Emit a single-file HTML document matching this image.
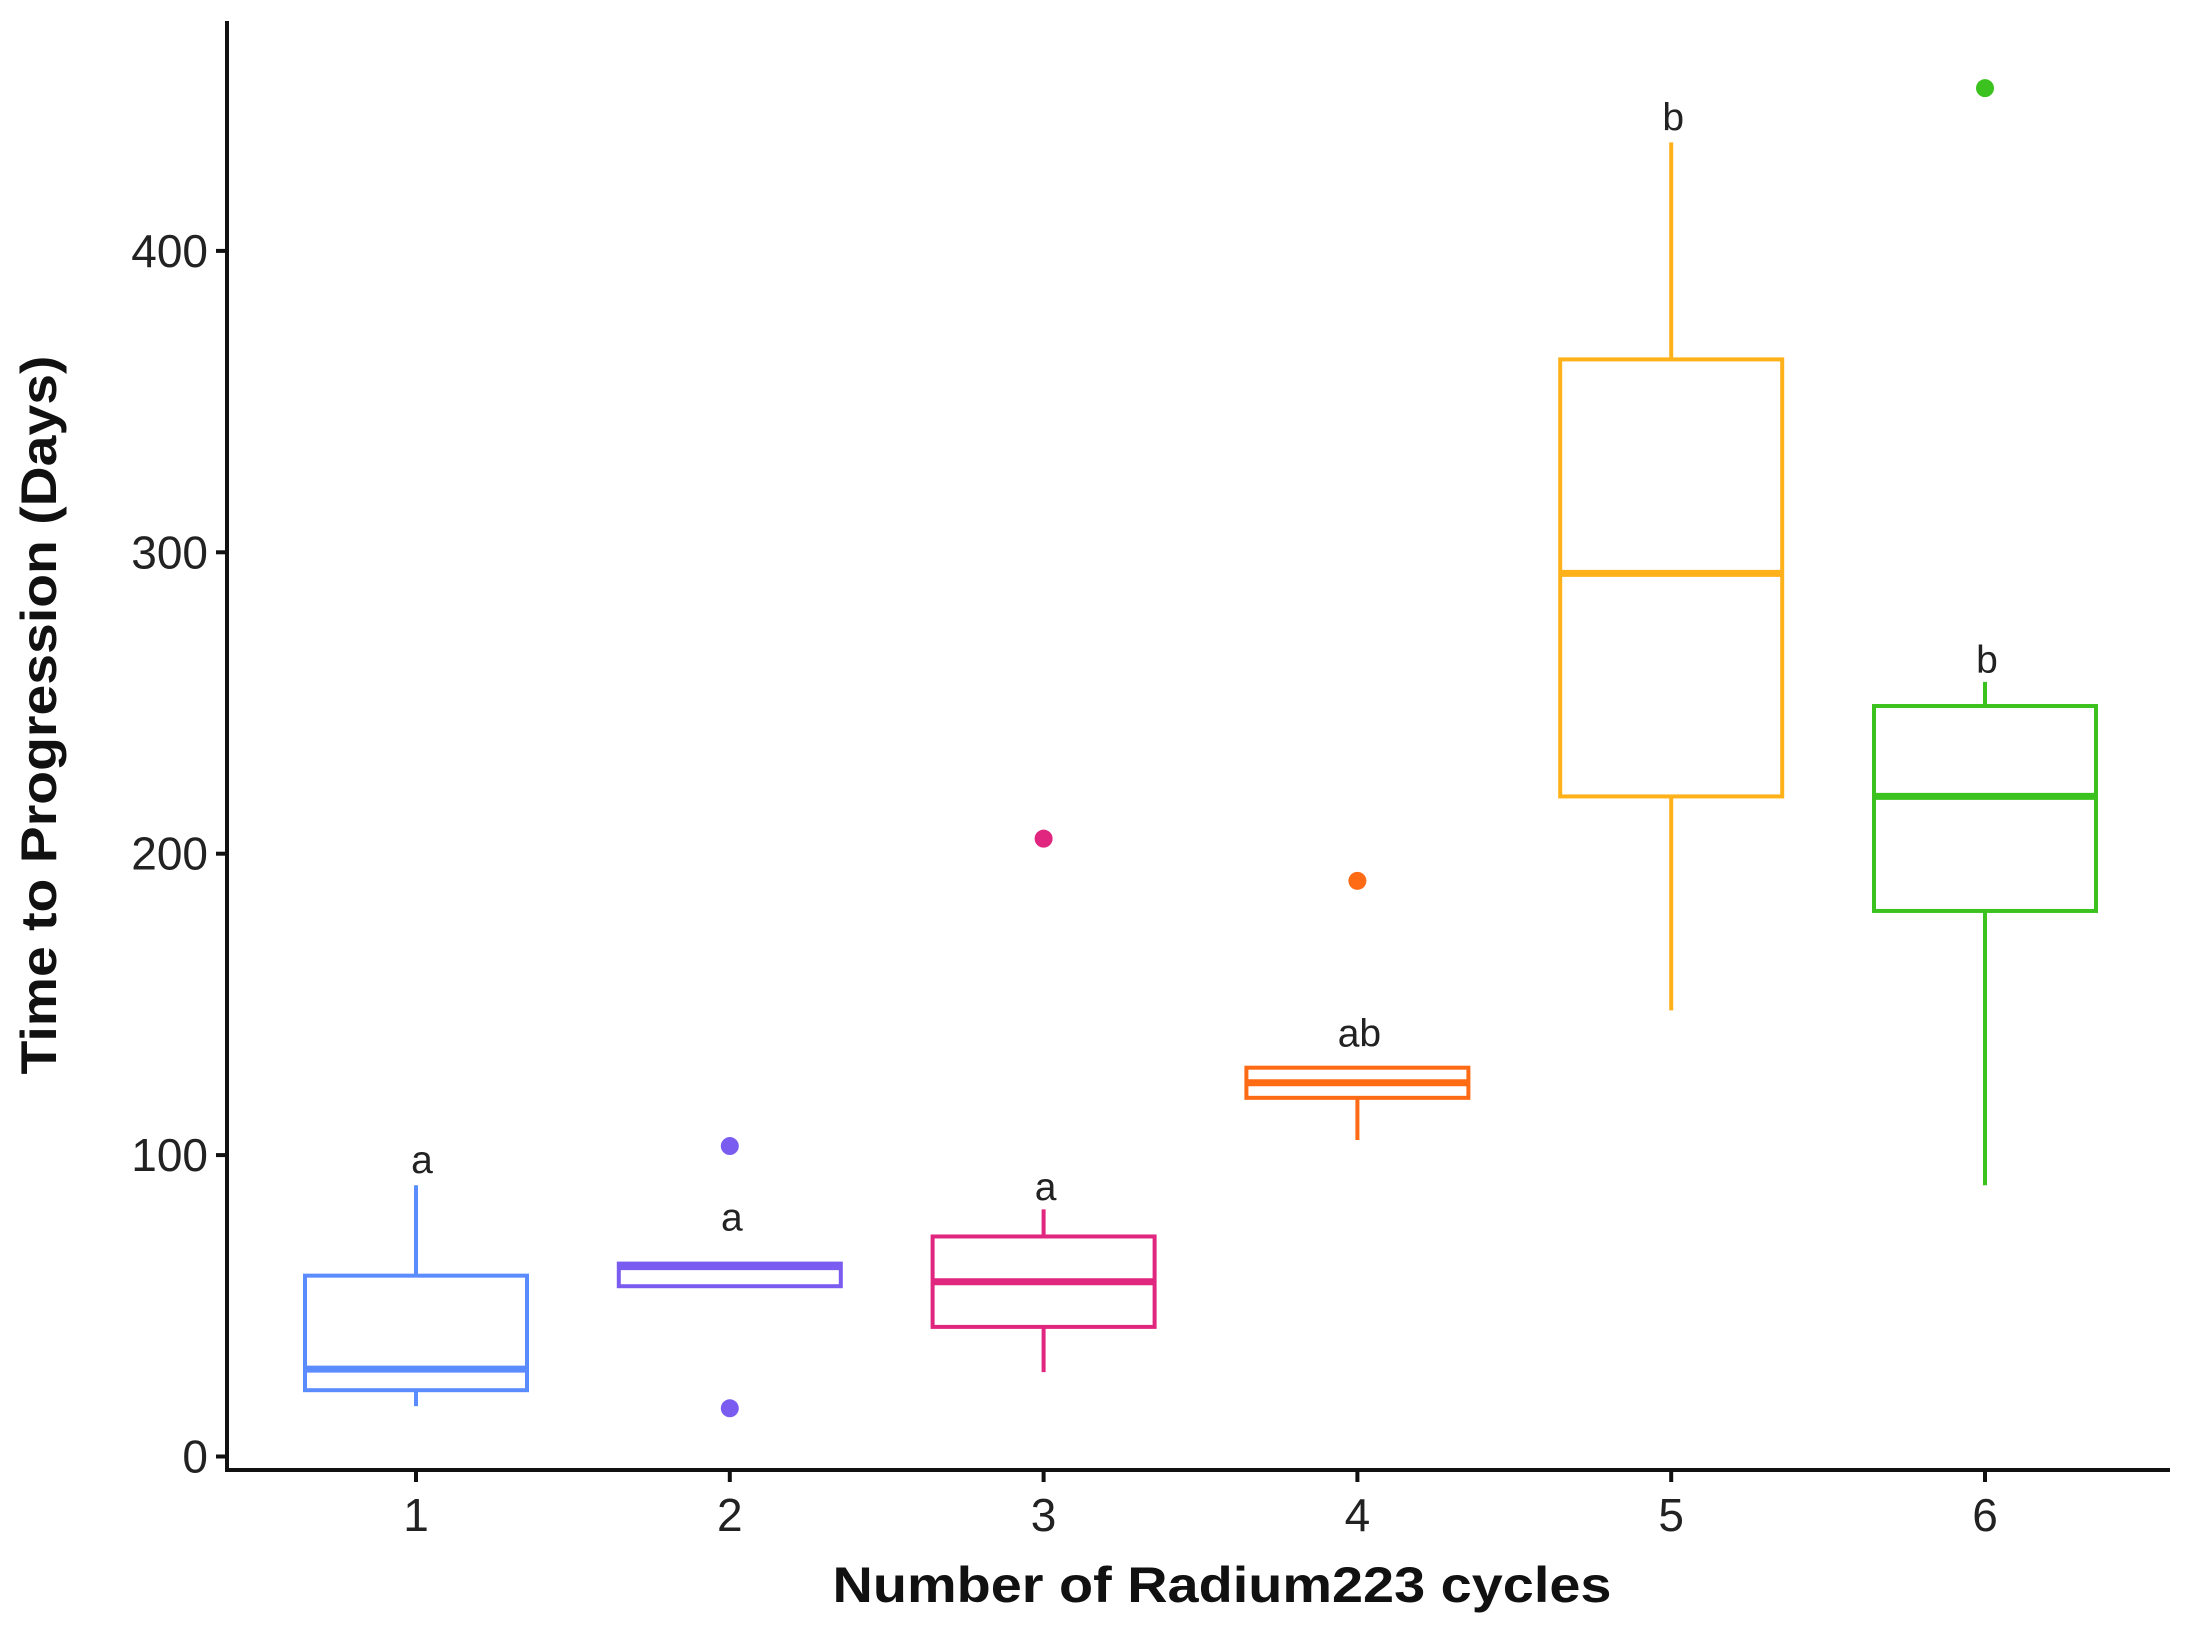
<!DOCTYPE html>
<html><head><meta charset="utf-8"><style>
html,body{margin:0;padding:0;background:#fff;}
svg{display:block;font-family:"Liberation Sans",Arial,sans-serif;}
</style></head><body>
<svg id="chart" width="2188" height="1631" viewBox="0 0 2188 1631" xmlns="http://www.w3.org/2000/svg">
<g id="plot"></g>
<text x="1222" y="1602" text-anchor="middle" font-size="50" font-weight="bold" textLength="779" lengthAdjust="spacingAndGlyphs" fill="#111">Number of Radium223 cycles</text>
<text transform="translate(56,715) rotate(-90)" text-anchor="middle" font-size="50" font-weight="bold" textLength="719" lengthAdjust="spacingAndGlyphs" fill="#111">Time to Progression (Days)</text>
</svg>
<script>
const categories = ['1','2','3','4','5','6'];
const lowWhisker = [16.7, 56.5, 28, 105, 148, 90];
const q1 = [22, 56.5, 43, 119, 219, 181];
const median = [29, 63, 58, 124, 293, 219];
const q3 = [60, 64, 73, 129, 364, 249];
const highWhisker = [90, 64, 82, 129, 436, 257];
const outliers = [[], [103, 16], [205], [191], [], [454]];
const letters = ['a', 'a', 'a', 'ab', 'b', 'b'];
const letterValues = [100, 81, 91, 142, 446, 266];
const colors = ['#5b8cff', '#7b5cf0', '#e0267f', '#ff6a14', '#ffb11a', '#3cc21e'];
const yTicks = [0, 100, 200, 300, 400];

const NS = 'http://www.w3.org/2000/svg';
const g = document.getElementById('plot');
const yScale = v => 1456.5 - v * 3.014;
const xScale = i => 416 + i * 313.8;
const halfW = 111;
function mk(tag, attrs, parent) {
  const e = document.createElementNS(NS, tag);
  for (const k in attrs) e.setAttribute(k, attrs[k]);
  (parent || g).appendChild(e);
  return e;
}
let e = mk('line', {x1: 227, y1: 21, x2: 227, y2: 1472, stroke: '#111', 'stroke-width': 4});


e = mk('line', {x1: 225, y1: 1470, x2: 2170, y2: 1470, stroke: '#111', 'stroke-width': 4});


yTicks.forEach(t => {
  const y = yScale(t);
  const tk = mk('line', {x1: 216, y1: y, x2: 227, y2: y, stroke: '#111', 'stroke-width': 4});
  
  
  const lb = mk('text', {x: 208, y: y + 16, 'text-anchor': 'end', 'font-size': 46, fill: '#222'});
  lb.textContent = t;
  
  
});
categories.forEach((c, i) => {
  const x = xScale(i);
  const tk = mk('line', {x1: x, y1: 1470, x2: x, y2: 1482, stroke: '#111', 'stroke-width': 4});
  
  
  const lb = mk('text', {x: x, y: 1531, 'text-anchor': 'middle', 'font-size': 46, fill: '#222'});
  lb.textContent = c;
  
  
  const col = colors[i];
  const grp = mk('g', {});
  
  
  if (highWhisker[i] > q3[i]) mk('line', {x1: x, y1: yScale(q3[i]), x2: x, y2: yScale(highWhisker[i]), stroke: col, 'stroke-width': 4}, grp);
  if (lowWhisker[i] < q1[i]) mk('line', {x1: x, y1: yScale(q1[i]), x2: x, y2: yScale(lowWhisker[i]), stroke: col, 'stroke-width': 4}, grp);
  mk('rect', {x: x - halfW, y: yScale(q3[i]), width: halfW * 2, height: yScale(q1[i]) - yScale(q3[i]), fill: 'none', stroke: col, 'stroke-width': 4}, grp);
  mk('line', {x1: x - halfW, y1: yScale(median[i]), x2: x + halfW, y2: yScale(median[i]), stroke: col, 'stroke-width': 7}, grp);
  outliers[i].forEach(v => {
    const o = mk('circle', {cx: x, cy: yScale(v), r: 9, fill: col});
    
    
  });
  const lt = mk('text', {x: x + (i === 0 ? 6 : 2), y: yScale(letterValues[i]) + 18, 'text-anchor': 'middle', 'font-size': 39, fill: '#222'});
  lt.textContent = letters[i];
  
  
});
</script>
</body></html>
